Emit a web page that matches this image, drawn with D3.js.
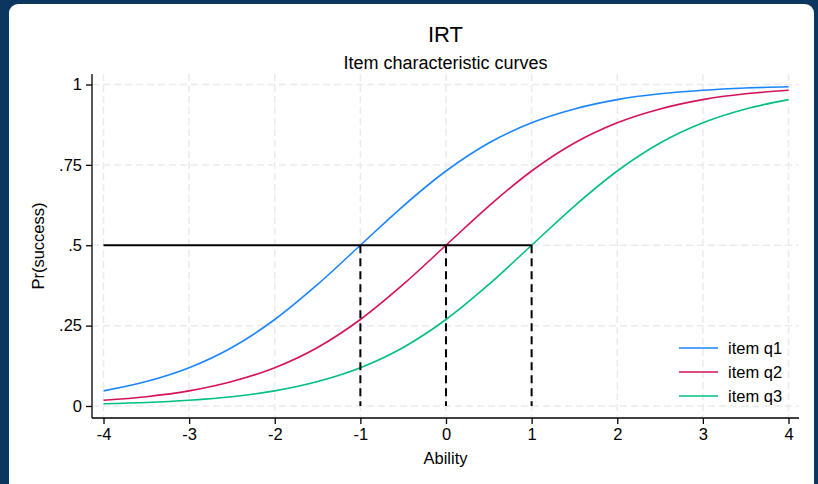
<!DOCTYPE html>
<html>
<head>
<meta charset="utf-8">
<script src="https://cdn.jsdelivr.net/npm/d3@7"></script>
<style>
  html, body { margin: 0; padding: 0; background: #0b365f; }
  svg { display: block; font-family: "Liberation Sans", Arial, Helvetica, sans-serif; }
</style>
</head>
<body>
<svg width="818" height="484" viewBox="0 0 818 484"></svg>
<script>
// input data
const ability = [-4, -3.5, -3, -2.5, -2, -1.5, -1, -0.5, 0, 0.5, 1, 1.5, 2, 2.5, 3, 3.5, 4];
const q1 = [0.047, 0.076, 0.119, 0.182, 0.269, 0.378, 0.5, 0.622, 0.731, 0.818, 0.881, 0.924, 0.953, 0.971, 0.982, 0.989, 0.993];
const q2 = [0.018, 0.029, 0.047, 0.076, 0.119, 0.182, 0.269, 0.378, 0.5, 0.622, 0.731, 0.818, 0.881, 0.924, 0.953, 0.971, 0.982];
const q3 = [0.007, 0.011, 0.018, 0.029, 0.047, 0.076, 0.119, 0.182, 0.269, 0.378, 0.5, 0.622, 0.731, 0.818, 0.881, 0.924, 0.953];
const seriesNames = ['item q1', 'item q2', 'item q3'];
const difficulty = [-1, 0, 1]; // ability where each item hits .5
const xTicks = [-4, -3, -2, -1, 0, 1, 2, 3, 4];
const yTicks = [0, 0.25, 0.5, 0.75, 1];
const yTickLabels = ['0', '.25', '.5', '.75', '1'];

const colors = ['#1a85ff', '#d41159', '#00bf7f'];
const series = [q1, q2, q3].map((vals, i) => ({
  name: seriesNames[i],
  color: colors[i],
  points: ability.map((a, j) => [a, vals[j]]),
}));

const svg = d3.select('svg');
const font = '"Liberation Sans", Arial, Helvetica, sans-serif';

// white panel over the dark frame
svg.append('rect')
  .attr('x', 9).attr('y', 4)
  .attr('width', 805).attr('height', 500)
  .attr('rx', 9)
  .attr('fill', '#fff');

// plot region
const plot = { left: 92, right: 799, top: 74, bottom: 418 };
const x = d3.scaleLinear().domain([-4, 4]).range([103.5, 788.5]);
const y = d3.scaleLinear().domain([0, 1]).range([406, 84.5]);

// grid lines
const grid = svg.append('g')
  .attr('stroke', '#ebebeb')
  .attr('stroke-width', 1.5)
  .attr('stroke-dasharray', '7,4');
grid.selectAll('line.v')
  .data(xTicks)
  .join('line')
  .attr('class', 'v')
  .attr('x1', d => x(d)).attr('x2', d => x(d))
  .attr('y1', plot.top).attr('y2', plot.bottom);
grid.selectAll('line.h')
  .data(yTicks)
  .join('line')
  .attr('class', 'h')
  .attr('x1', plot.left).attr('x2', plot.right)
  .attr('y1', d => y(d)).attr('y2', d => y(d));

// curves
const line = d3.line()
  .x(d => x(d[0]))
  .y(d => y(d[1]))
  .curve(d3.curveMonotoneX);

svg.append('g')
  .selectAll('path')
  .data(series)
  .join('path')
  .attr('d', d => line(d.points))
  .attr('fill', 'none')
  .attr('stroke', d => d.color)
  .attr('stroke-width', 1.6);

// reference lines at Pr = .5
svg.append('line')
  .attr('x1', x(-4)).attr('x2', x(d3.max(difficulty)))
  .attr('y1', y(0.5)).attr('y2', y(0.5))
  .attr('stroke', '#000')
  .attr('stroke-width', 2);

svg.append('g')
  .selectAll('line')
  .data(difficulty)
  .join('line')
  .attr('x1', d => x(d)).attr('x2', d => x(d))
  .attr('y1', y(0.5)).attr('y2', y(0))
  .attr('stroke', '#000')
  .attr('stroke-width', 2)
  .attr('stroke-dasharray', '8,5');

// axes
const xAxis = svg.append('g')
  .attr('transform', `translate(0 ${plot.bottom})`)
  .call(d3.axisBottom(x).tickValues(xTicks).tickSize(6).tickPadding(4).tickFormat(d => String(d)));
xAxis.select('.domain').attr('d', `M${plot.left},0H${plot.right}`).attr('stroke-width', 1.3);

const yAxis = svg.append('g')
  .attr('transform', `translate(${plot.left} 0)`)
  .call(d3.axisLeft(y).tickValues(yTicks).tickSize(6).tickPadding(4).tickFormat((d, i) => yTickLabels[i]));
yAxis.select('.domain').attr('d', `M0,${plot.top}V${plot.bottom}`).attr('stroke-width', 1.3);

svg.selectAll('.tick line').attr('stroke-width', 1.3);
svg.selectAll('.tick text')
  .attr('font-size', 16.5)
  .attr('font-family', font)
  .attr('fill', '#000');

// titles
const cx = (plot.left + plot.right) / 2;
svg.append('text')
  .attr('x', cx).attr('y', 42)
  .attr('text-anchor', 'middle')
  .attr('font-size', 22)
  .text('IRT');
svg.append('text')
  .attr('x', cx).attr('y', 69)
  .attr('text-anchor', 'middle')
  .attr('font-size', 18)
  .text('Item characteristic curves');
svg.append('text')
  .attr('x', cx).attr('y', 464)
  .attr('text-anchor', 'middle')
  .attr('font-size', 16.5)
  .text('Ability');
svg.append('text')
  .attr('transform', `translate(44 ${(plot.top + plot.bottom) / 2}) rotate(-90)`)
  .attr('text-anchor', 'middle')
  .attr('font-size', 16.5)
  .text('Pr(success)');

// legend
const legend = svg.append('g')
  .selectAll('g')
  .data(series)
  .join('g')
  .attr('transform', (d, i) => `translate(679 ${348 + i * 24})`);
legend.append('line')
  .attr('x1', 0).attr('x2', 39)
  .attr('stroke', d => d.color)
  .attr('stroke-width', 1.6);
legend.append('text')
  .attr('x', 49).attr('y', 6)
  .attr('font-size', 16.5)
  .text(d => d.name);
</script>
</body>
</html>
